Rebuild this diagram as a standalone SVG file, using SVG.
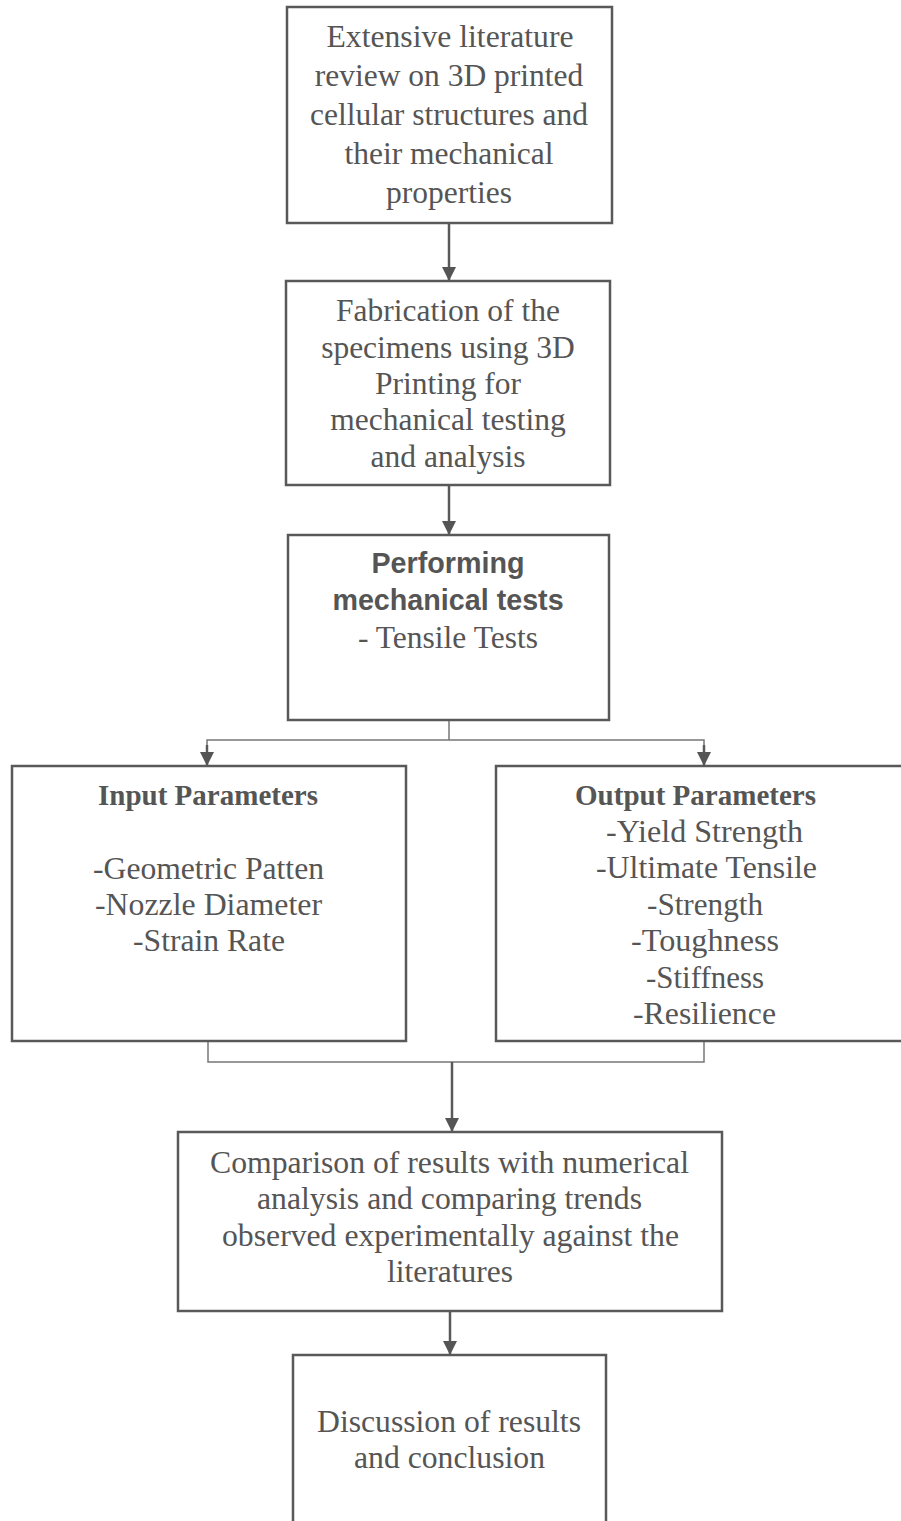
<svg xmlns="http://www.w3.org/2000/svg" width="901" height="1521" viewBox="0 0 901 1521">
<style>
.box{fill:#fff;stroke:#595959;stroke-width:2.5}
.t{font-family:"Liberation Serif","Times New Roman",serif;font-size:31.5px;fill:#555;text-anchor:middle}
.tb{font-family:"Liberation Serif","Times New Roman",serif;font-size:30px;font-weight:bold;fill:#555;text-anchor:middle}
.sb{font-family:"Liberation Sans",Arial,sans-serif;font-size:28.7px;font-weight:bold;fill:#555;text-anchor:middle}
.c{fill:none;stroke:#595959;stroke-width:2.5}
.thin{fill:none;stroke:#777;stroke-width:1.5}
</style>
<defs>
<marker id="ah" markerWidth="14" markerHeight="14" refX="7" refY="14" orient="auto" markerUnits="userSpaceOnUse" viewBox="0 0 14 14">
<path d="M0,0 L14,0 L7,14 Z" fill="#555" transform="rotate(-90 7 7)"/>
</marker>
<marker id="arr" viewBox="0 0 14 14" refX="14" refY="7" markerWidth="14" markerHeight="14" markerUnits="userSpaceOnUse" orient="auto">
<path d="M0,0 L14,7 L0,14 Z" fill="#555"/>
</marker>
</defs>
<rect width="901" height="1521" fill="#fff"/>
<g id="connectors">
<line class="c" x1="449" y1="223" x2="449" y2="281" marker-end="url(#arr)"/>
<line class="c" x1="449" y1="485" x2="449" y2="535" marker-end="url(#arr)"/>
<polyline class="thin" points="449,720 449,740"/>
<polyline class="thin" points="207,752 207,740 704,740 704,752"/>
<line class="c" x1="207" y1="745" x2="207" y2="766" marker-end="url(#arr)"/>
<line class="c" x1="704" y1="745" x2="704" y2="766" marker-end="url(#arr)"/>
<polyline class="thin" points="208,1041 208,1062 704,1062 704,1041"/>
<line class="c" x1="452" y1="1062" x2="452" y2="1132" marker-end="url(#arr)"/>
<line class="c" x1="450" y1="1311" x2="450" y2="1355" marker-end="url(#arr)"/>
</g>
<g id="n1">
<rect class="box" x="287" y="7" width="325" height="216"/>
<text class="t" x="450" y="47" textLength="247" lengthAdjust="spacingAndGlyphs">Extensive literature</text>
<text class="t" x="449" y="86">review on 3D printed</text>
<text class="t" x="449" y="125">cellular structures and</text>
<text class="t" x="449" y="164">their mechanical</text>
<text class="t" x="449" y="203">properties</text>
</g>
<g id="n2">
<rect class="box" x="286" y="281" width="324" height="204"/>
<text class="t" x="448" y="321">Fabrication of the</text>
<text class="t" x="448" y="358">specimens using 3D</text>
<text class="t" x="448" y="394">Printing for</text>
<text class="t" x="448" y="430">mechanical testing</text>
<text class="t" x="448" y="467">and analysis</text>
</g>
<g id="n3">
<rect class="box" x="288" y="535" width="321" height="185"/>
<text class="sb" x="448" y="573">Performing</text>
<text class="sb" x="448" y="610">mechanical tests</text>
<text class="t" x="448" y="648">- Tensile Tests</text>
</g>
<g id="n4">
<rect class="box" x="12" y="766" width="394" height="275"/>
<text class="tb" x="208" y="805" textLength="220" lengthAdjust="spacingAndGlyphs">Input Parameters</text>
<text class="t" x="208.5" y="879" textLength="231" lengthAdjust="spacingAndGlyphs">-Geometric Patten</text>
<text class="t" x="208.5" y="915" textLength="227" lengthAdjust="spacingAndGlyphs">-Nozzle Diameter</text>
<text class="t" x="209" y="951" textLength="152" lengthAdjust="spacingAndGlyphs">-Strain Rate</text>
</g>
<g id="n5">
<rect class="box" x="496" y="766" width="420" height="275"/>
<text class="tb" x="695.5" y="805" textLength="241" lengthAdjust="spacingAndGlyphs">Output Parameters</text>
<text class="t" x="704.5" y="842" textLength="197" lengthAdjust="spacingAndGlyphs">-Yield Strength</text>
<text class="t" x="706.5" y="878" textLength="221" lengthAdjust="spacingAndGlyphs">-Ultimate Tensile</text>
<text class="t" x="705" y="915" textLength="116" lengthAdjust="spacingAndGlyphs">-Strength</text>
<text class="t" x="705" y="951" textLength="148" lengthAdjust="spacingAndGlyphs">-Toughness</text>
<text class="t" x="705" y="988" textLength="118" lengthAdjust="spacingAndGlyphs">-Stiffness</text>
<text class="t" x="704.5" y="1024" textLength="143" lengthAdjust="spacingAndGlyphs">-Resilience</text>
</g>
<g id="n6">
<rect class="box" x="178" y="1132" width="544" height="179"/>
<text class="t" x="449.5" y="1173" textLength="479" lengthAdjust="spacingAndGlyphs">Comparison of results with numerical</text>
<text class="t" x="449.5" y="1209" textLength="385" lengthAdjust="spacingAndGlyphs">analysis and comparing trends</text>
<text class="t" x="450.5" y="1246" textLength="457" lengthAdjust="spacingAndGlyphs">observed experimentally against the</text>
<text class="t" x="450" y="1282" textLength="126" lengthAdjust="spacingAndGlyphs">literatures</text>
</g>
<g id="n7">
<rect class="box" x="293" y="1355" width="313" height="180"/>
<text class="t" x="449" y="1432" textLength="264" lengthAdjust="spacingAndGlyphs">Discussion of results</text>
<text class="t" x="449.5" y="1468" textLength="191" lengthAdjust="spacingAndGlyphs">and conclusion</text>
</g>
</svg>
